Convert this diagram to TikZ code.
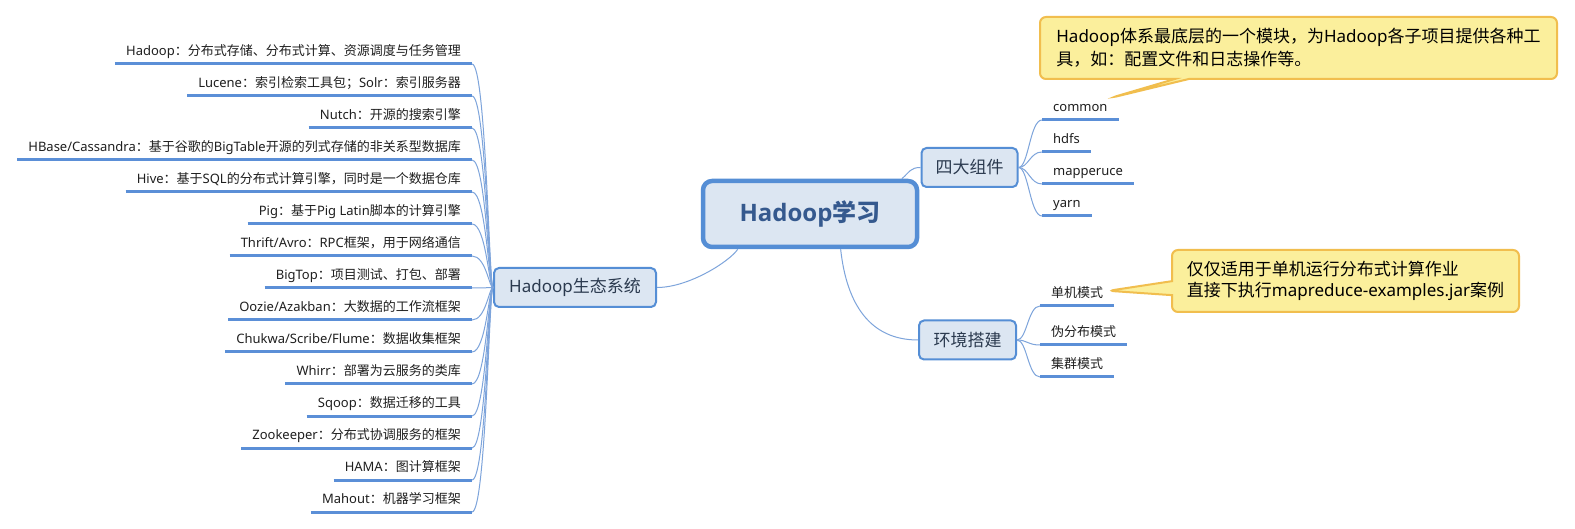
\documentclass[tikz,border=0pt]{standalone}
\usepackage{fontspec}
\setmainfont{Noto Sans CJK SC}
\newfontfamily\latf{Noto Sans}
\newfontfamily\latb{Open Sans}
\newcommand\La[1]{{\latf #1}}
\usetikzlibrary{shapes.callouts,calc}
\definecolor{nodefill}{HTML}{DCE6F2}
\definecolor{nodeborder}{HTML}{558ED5}
\definecolor{connc}{HTML}{7DA4DB}
\definecolor{ulc}{HTML}{5B8FD7}
\definecolor{centtext}{HTML}{35598E}
\definecolor{subtext}{HTML}{2B3A4F}
\definecolor{notefill}{HTML}{FBEF9C}
\definecolor{noteborder}{HTML}{F1BE4E}
\begin{document}
\begin{tikzpicture}[x=1pt,y=-1pt,
  central/.style={draw=nodeborder, fill=nodefill, line width=4.5pt, rounded corners=9pt, minimum width=214pt, minimum height=66pt, inner sep=0pt, font=\fontsize{24}{28}\selectfont\bfseries, text=centtext},
  topic/.style={draw=nodeborder, fill=nodefill, line width=2pt, rounded corners=5pt, minimum height=39pt, inner sep=0pt, font=\fontsize{17}{20}\selectfont, text=subtext},
  leaf/.style={font=\fontsize{13}{15}\selectfont, text=black!88, inner xsep=11pt, inner ysep=5.5pt, text height=10pt, text depth=3pt},
  conn/.style={draw=connc, line width=1pt},
  uline/.style={draw=ulc, line width=3pt},
  note/.style={rectangle callout, draw=noteborder, fill=notefill, line width=2pt, rounded corners=6pt, callout pointer width=14pt, inner sep=0pt, align=left, text=black}
]
\fill[white] (0,0) rectangle (1575,529);
\useasboundingbox (0,0) rectangle (1575,529);

% main topics
\node[central] (c) at (810,214) {{\latb\bfseries Hadoop}学习};
\node[topic, minimum width=162pt] (eco) at (575,287.5) {\La{Hadoop}生态系统};
\node[topic, minimum width=96pt] (s4) at (969.5,167.5) {四大组件};
\node[topic, minimum width=97pt] (env) at (967.5,340) {环境搭建};

% left leaves
\node[leaf, anchor=south east] (l1) at (472,64) {\La{Hadoop}：分布式存储、分布式计算、资源调度与任务管理};
\node[leaf, anchor=south east] (l2) at (472,96) {\La{Lucene}：索引检索工具包；\La{Solr}：索引服务器};
\node[leaf, anchor=south east] (l3) at (472,128) {\La{Nutch}：开源的搜索引擎};
\node[leaf, anchor=south east] (l4) at (472,160) {\La{HBase/Cassandra}：基于谷歌的\La{BigTable}开源的列式存储的非关系型数据库};
\node[leaf, anchor=south east] (l5) at (472,192) {\La{Hive}：基于\La{SQL}的分布式计算引擎，同时是一个数据仓库};
\node[leaf, anchor=south east] (l6) at (472,224) {\La{Pig}：基于\La{Pig Latin}脚本的计算引擎};
\node[leaf, anchor=south east] (l7) at (472,256) {\La{Thrift/Avro}：\La{RPC}框架，用于网络通信};
\node[leaf, anchor=south east] (l8) at (472,288) {\La{BigTop}：项目测试、打包、部署};
\node[leaf, anchor=south east] (l9) at (472,320) {\La{Oozie/Azakban}：大数据的工作流框架};
\node[leaf, anchor=south east] (l10) at (472,352) {\La{Chukwa/Scribe/Flume}：数据收集框架};
\node[leaf, anchor=south east] (l11) at (472,384) {\La{Whirr}：部署为云服务的类库};
\node[leaf, anchor=south east] (l12) at (472,416) {\La{Sqoop}：数据迁移的工具};
\node[leaf, anchor=south east] (l13) at (472,448) {\La{Zookeeper}：分布式协调服务的框架};
\node[leaf, anchor=south east] (l14) at (472,480) {\La{HAMA}：图计算框架};
\node[leaf, anchor=south east] (l15) at (472,512) {\La{Mahout}：机器学习框架};

% right leaves
\node[leaf, anchor=south west] (cm) at (1042,120) {\La{common}};
\node[leaf, anchor=south west] (hd) at (1042,152) {\La{hdfs}};
\node[leaf, anchor=south west] (mr) at (1042,184) {\La{mapperuce}};
\node[leaf, anchor=south west] (yn) at (1042,216) {\La{yarn}};
\node[leaf, anchor=south west] (dj) at (1040,306) {单机模式};
\node[leaf, anchor=south west] (wf) at (1040,345) {伪分布模式};
\node[leaf, anchor=south west] (jq) at (1040,377) {集群模式};

% connectors
\draw[conn] (c.206) .. controls +(-8,12) and +(32,0) .. (eco.east);
\draw[conn] (c.21) .. controls +(8,-7) and +(-10,0) .. (s4.west);
\draw[conn] (c.311) .. controls +(6,55) and +(-48,0) .. (env.west);
\foreach \i in {1,...,15}
  \draw[conn] (l\i.south east) .. controls +(14,0) and +(-4,0) .. (eco.west);
\foreach \n in {cm,hd,mr,yn}
  \draw[conn] (s4.east) .. controls +(10,0) and +(-12,0) .. (\n.south west);
\foreach \n in {dj,wf,jq}
  \draw[conn] (env.east) .. controls +(10,0) and +(-12,0) .. (\n.south west);

% underlines
\foreach \n in {l1,l2,l3,l4,l5,l6,l7,l8,l9,l10,l11,l12,l13,l14,l15,cm,hd,mr,yn,dj,wf,jq}
  \draw[uline] (\n.south west) -- (\n.south east);

% notes
\coordinate (tip1) at ($(cm.north east)+(-7,2)$);
\coordinate (tip2) at ($(dj.east)+(-6,-3)$);
\node[note, minimum width=517pt, minimum height=62pt, font=\fontsize{17}{23}\selectfont, callout absolute pointer={(tip1)}] (n1) at (1298.5,48)
  {\La{Hadoop}体系最底层的一个模块，为\La{Hadoop}各子项目提供各种工\\具，如：配置文件和日志操作等。};
\node[note, minimum width=347pt, minimum height=62pt, font=\fontsize{17}{21}\selectfont, callout absolute pointer={(tip2)}] (n2) at (1345.5,281)
  {仅仅适用于单机运行分布式计算作业\\直接下执行\La{mapreduce-examples.jar}案例};
\end{tikzpicture}
\end{document}
